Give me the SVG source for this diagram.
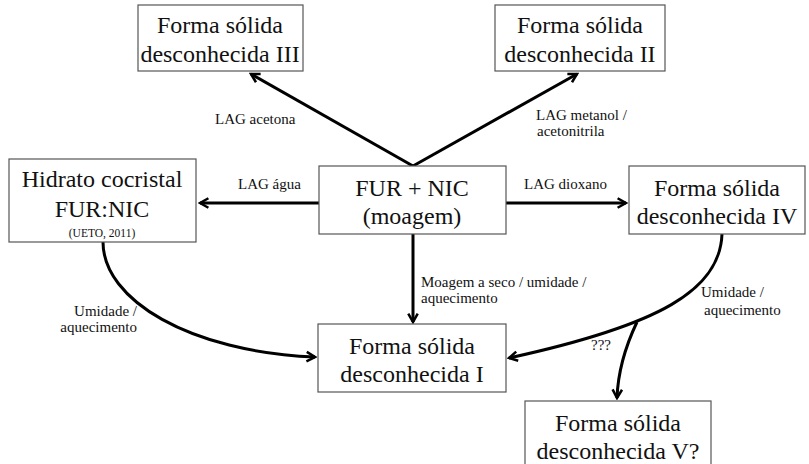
<svg xmlns="http://www.w3.org/2000/svg" width="809" height="464" viewBox="0 0 809 464">
  <style>
    .box { fill: #fff; stroke: #555; stroke-width: 1.2; }
    text { font-family: "Liberation Serif", Tinos, "Times New Roman", "DejaVu Serif", serif; fill: #111; }
    .t { font-size: 24px; text-anchor: middle; }
    .small { font-size: 11.5px; text-anchor: middle; }
    .lbl { font-size: 15px; }
    .edge { fill: none; stroke: #000; stroke-width: 3; marker-end: url(#arr); }
  </style>
  <defs>
    <marker id="arr" viewBox="0 0 12 12" refX="10" refY="6" markerWidth="4.2" markerHeight="4.2" orient="auto" markerUnits="strokeWidth">
      <polyline points="2,1.5 10,6 2,10.5" fill="none" stroke="#000" stroke-width="2.4" stroke-linejoin="miter"/>
    </marker>
  </defs>

  <!-- connectors and their labels -->
  <g id="connectors">
    <line class="edge" x1="413" y1="166" x2="251" y2="74"/>
    <line class="edge" x1="413" y1="166" x2="577" y2="74"/>
    <line class="edge" x1="319" y1="203" x2="200" y2="203"/>
    <line class="edge" x1="506" y1="203" x2="626" y2="203"/>
    <line class="edge" x1="413" y1="234" x2="413" y2="322"/>
    <path class="edge" d="M103,242 C103,300 190,352 315,357"/>
    <path class="edge" d="M722,234 C720,290 660,325 509,358"/>
    <path class="edge" d="M637,322 C627,343 618,370 617,398"/>

    <text class="lbl" x="215" y="124">LAG acetona</text>
    <text class="lbl" x="536" y="120">LAG metanol /</text>
    <text class="lbl" x="537" y="136">acetonitrila</text>
    <text class="lbl" x="238" y="189">LAG água</text>
    <text class="lbl" x="524" y="189">LAG dioxano</text>
    <text class="lbl" x="421" y="287">Moagem a seco / umidade /</text>
    <text class="lbl" x="421" y="303">aquecimento</text>
    <text class="lbl" x="137" y="316" text-anchor="end">Umidade /</text>
    <text class="lbl" x="137" y="332" text-anchor="end">aquecimento</text>
    <text class="lbl" x="701" y="297">Umidade /</text>
    <text class="lbl" x="704" y="315">aquecimento</text>
    <text class="lbl" x="591" y="350">???</text>
  </g>

  <g id="form-iii">
    <rect class="box" x="138" y="5" width="165" height="66"/>
    <text class="t" x="220" y="33">Forma sólida</text>
    <text class="t" x="220" y="62">desconhecida III</text>
  </g>

  <g id="form-ii">
    <rect class="box" x="495" y="5" width="170" height="66"/>
    <text class="t" x="580" y="33">Forma sólida</text>
    <text class="t" x="580" y="62">desconhecida II</text>
  </g>

  <g id="hydrate">
    <rect class="box" x="9" y="159" width="187" height="83"/>
    <text class="t" x="102" y="187">Hidrato cocristal</text>
    <text class="t" x="102" y="217">FUR:NIC</text>
    <text class="small" x="102" y="237">(UETO, 2011)</text>
  </g>

  <g id="fur-nic">
    <rect class="box" x="319" y="166" width="187" height="68"/>
    <text class="t" x="412" y="196">FUR + NIC</text>
    <text class="t" x="412" y="224">(moagem)</text>
  </g>

  <g id="form-iv">
    <rect class="box" x="629" y="166" width="176" height="68"/>
    <text class="t" x="717" y="196">Forma sólida</text>
    <text class="t" x="717" y="224">desconhecida IV</text>
  </g>

  <g id="form-i">
    <rect class="box" x="318" y="324" width="188" height="68"/>
    <text class="t" x="412" y="354">Forma sólida</text>
    <text class="t" x="412" y="382">desconhecida I</text>
  </g>

  <g id="form-v">
    <rect class="box" x="525" y="401" width="186" height="70"/>
    <text class="t" x="618" y="431">Forma sólida</text>
    <text class="t" x="618" y="459">desconhecida V?</text>
  </g>
</svg>
